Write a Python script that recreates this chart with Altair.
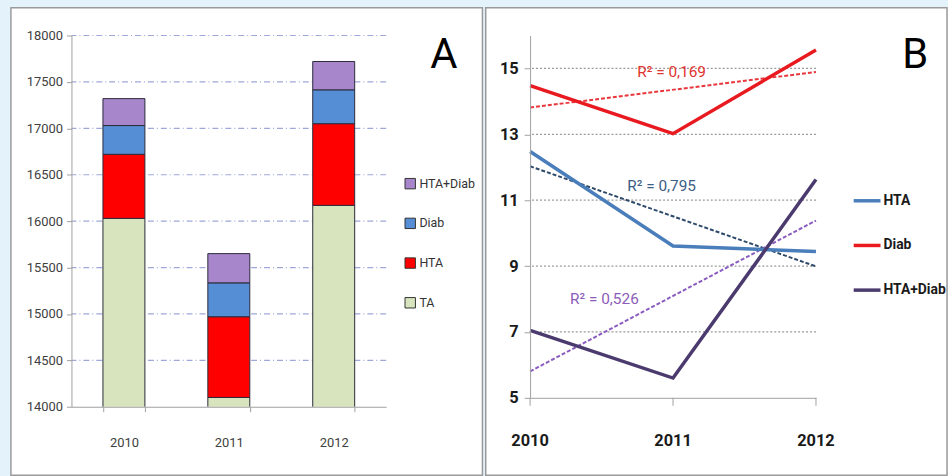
import altair as alt
import pandas as pd

# ---------- data ----------
years = [2010, 2011, 2012]
categories = ["TA", "HTA", "Diab", "HTA+Diab"]
ta = [16030, 14100, 16170]
hta = [690, 870, 880]
diab = [310, 365, 365]
hta_diab = [290, 315, 305]
a_ticks = [14000, 14500, 15000, 15500, 16000, 16500, 17000, 17500, 18000]
a_grid = [14500, 15000, 15500, 16000, 16500, 17000, 17500, 18000]

series_b = ["HTA", "Diab", "HTA+Diab"]
hta_pct = [12.48, 9.61, 9.44]
diab_pct = [14.48, 13.02, 15.56]
hd_pct = [7.05, 5.60, 11.63]
b_ticks = [5, 7, 9, 11, 13, 15]
b_grid = [7, 9, 11, 13, 15]
r2_labels = ["R² = 0,169", "R² = 0,795", "R² = 0,526"]
r2_x = [2010.99, 2010.92, 2010.52]
r2_y = [14.9, 11.43, 8.0]

# ---------- styles ----------
FONT = "Roboto"
bar_colors = ["#A886CC", "#558ED5", "#FF0000", "#D7E4BD"]
line_colors = ["#4A7EBB", "#E8191F", "#4B3A6E"]
trend_colors = ["#2E4A6B", "#E8383D", "#8A5CC0"]
r2_colors = ["#E0352F", "#3B5E85", "#8B5DB8"]

# ---------- panel A ----------
rows = []
for i, y in enumerate(years):
    for k, (c, vals) in enumerate(zip(categories, [ta, hta, diab, hta_diab])):
        rows.append({"year": str(y), "cat": c, "value": vals[i], "ord": k})
dfA = pd.DataFrame(rows)
gridA = pd.DataFrame({"value": a_grid})

WA, HA = 317, 374
yA_scale = alt.Scale(domain=[14000, 18000], nice=False, zero=False)
yA = alt.Y("value:Q", title=None, stack="zero", scale=yA_scale,
           axis=alt.Axis(values=a_ticks, grid=False, zindex=1,
                         domainColor="#a0a0a0", labelOverlap=False,
                         tickColor="#a0a0a0", tickSize=5, labelFontSize=13,
                         labelColor="#404040", labelPadding=4, format="d"))

panelA_bg = alt.Chart(pd.DataFrame({"k": [0]})).mark_rect(
    fill="white", stroke="#9a9a9a", strokeWidth=1.5
).encode(x=alt.value(-61), x2=alt.value(414), y=alt.value(-28), y2=alt.value(443))

gridA_l = alt.Chart(gridA).mark_rule(color="#9FA8DA", strokeWidth=1.2,
                                      strokeDash=[6, 3, 1, 3]).encode(
    y=alt.Y("value:Q", title=None, scale=yA_scale)
)

bars = alt.Chart(dfA).mark_bar(clip=True, stroke="#2b2b3b", strokeWidth=1).encode(
    x=alt.X("year:O", title=None,
            scale=alt.Scale(paddingInner=0.6, paddingOuter=0.3),
            axis=alt.Axis(labelAngle=0, tickBand="extent", zindex=1, domainColor="#a0a0a0",
                          tickColor="#a0a0a0", tickSize=5, labelFontSize=13,
                          labelColor="#404040", labelPadding=25)),
    y=yA,
    color=alt.Color("cat:N", scale=alt.Scale(domain=categories[::-1], range=bar_colors),
                    legend=alt.Legend(title=None, orient="none", legendX=335, legendY=143,
                                      symbolType="square", symbolSize=110,
                                      symbolStrokeColor="#333333", symbolStrokeWidth=1,
                                      labelFontSize=12.5, labelFontWeight="normal",
                                      labelColor="#333333", labelFont=FONT,
                                      labelOffset=3, rowPadding=25)),
    order=alt.Order("ord:Q", sort="ascending"),
)

letterA = alt.Chart(pd.DataFrame({"t": ["A"]})).mark_text(
    fontSize=42, font=FONT, color="black", baseline="middle", align="center"
).encode(text="t:N", x=alt.value(375), y=alt.value(20))

panelA = alt.layer(panelA_bg, gridA_l, bars, letterA).properties(width=WA, height=HA)

# ---------- panel B ----------
rowsB = []
for s, vals in zip(series_b, [hta_pct, diab_pct, hd_pct]):
    for y, v in zip(years, vals):
        rowsB.append({"year": y, "series": s, "value": v})
dfB = pd.DataFrame(rowsB)
gridB = pd.DataFrame({"value": b_grid})
yearsB = pd.DataFrame({"year": years, "lab": [str(y) for y in years]})
r2df = pd.DataFrame({"label": r2_labels, "year": r2_x, "value": r2_y, "col": r2_colors})

WB, HB = 288, 365
xB_scale = alt.Scale(domain=[2010, 2012], nice=False, zero=False)
yB_scale = alt.Scale(domain=[5, 16], nice=False, zero=False)
xB = alt.X("year:Q", title=None, scale=xB_scale,
           axis=alt.Axis(values=years, format="d", grid=False, zindex=1,
                         labels=False, ticks=False,
                         domainColor="#a0a0a0"))
yB = alt.Y("value:Q", title=None, scale=yB_scale,
           axis=alt.Axis(values=b_ticks, format="d", grid=False, zindex=1,
                         domainColor="#a0a0a0",
                         tickColor="#a0a0a0", tickSize=6, labelFontSize=16.5,
                         labelFlush=False, labelOverlap=False,
                         labelFontWeight="bold", labelColor="#1a1a1a", labelPadding=6))

panelB_bg = alt.Chart(pd.DataFrame({"k": [0]})).mark_rect(
    fill="white", stroke="#9a9a9a", strokeWidth=1.5
).encode(x=alt.value(-44.7), x2=alt.value(420), y=alt.value(-28), y2=alt.value(443))

gridB_l = alt.Chart(gridB).mark_rule(color="#9a9a9a", strokeWidth=1.2,
                                      strokeDash=[2, 2]).encode(y=yB)

# x ticks and labels of panel B, placed through the x scale
xticksB = alt.Chart(yearsB).mark_rule(color="#a0a0a0", strokeWidth=1).encode(
    x=xB, y=alt.value(HB), y2=alt.value(HB + 8))
xlabsB = alt.Chart(yearsB).mark_text(fontSize=16.5, font=FONT, fontWeight="bold",
                                     color="#1a1a1a", baseline="middle",
                                     align="center").encode(
    x=xB, y=alt.value(HB + 44), text="lab:N")

trends = []
for s, c in zip(series_b, trend_colors):
    trends.append(
        alt.Chart(dfB).transform_filter(alt.datum.series == s)
        .transform_regression("year", "value")
        .mark_line(color=c, strokeWidth=2, strokeDash=[4, 2])
        .encode(x=xB, y=yB)
    )

lines = alt.Chart(dfB).mark_line(strokeWidth=3.5).encode(
    x=xB, y=yB,
    color=alt.Color("series:N", scale=alt.Scale(domain=series_b, range=line_colors),
                    legend=alt.Legend(title=None, orient="none", legendX=324, legendY=151,
                                      symbolType="stroke", symbolSize=729,
                                      symbolStrokeWidth=3.5, labelFontSize=14,
                                      labelFont=FONT,
                                      labelFontWeight="bold", labelColor="#1a1a1a",
                                      labelOffset=1, rowPadding=22)),
)

r2_text = alt.Chart(r2df).mark_text(fontSize=15.5, font=FONT, baseline="middle",
                                    align="center").encode(
    x=xB, y=yB, text="label:N", color=alt.Color("col:N", scale=None)
)

letterB = alt.Chart(pd.DataFrame({"t": ["B"]})).mark_text(
    fontSize=42, font=FONT, color="black", baseline="middle", align="center"
).encode(text="t:N", x=alt.value(388), y=alt.value(20))

panelB = alt.layer(panelB_bg, gridB_l, xticksB, xlabsB, *trends, lines, r2_text,
                   letterB).properties(width=WB, height=HB)

chart = alt.hconcat(panelA, panelB, spacing=1).resolve_scale(
    color="independent"
).resolve_legend(color="independent").properties(
    background="#E4F2FB",
    padding={"left": 10, "top": 5, "right": 0, "bottom": 0},
).configure(font=FONT).configure_view(strokeWidth=0)

chart.save("out.html", embed_options={"renderer": "svg", "actions": False})
